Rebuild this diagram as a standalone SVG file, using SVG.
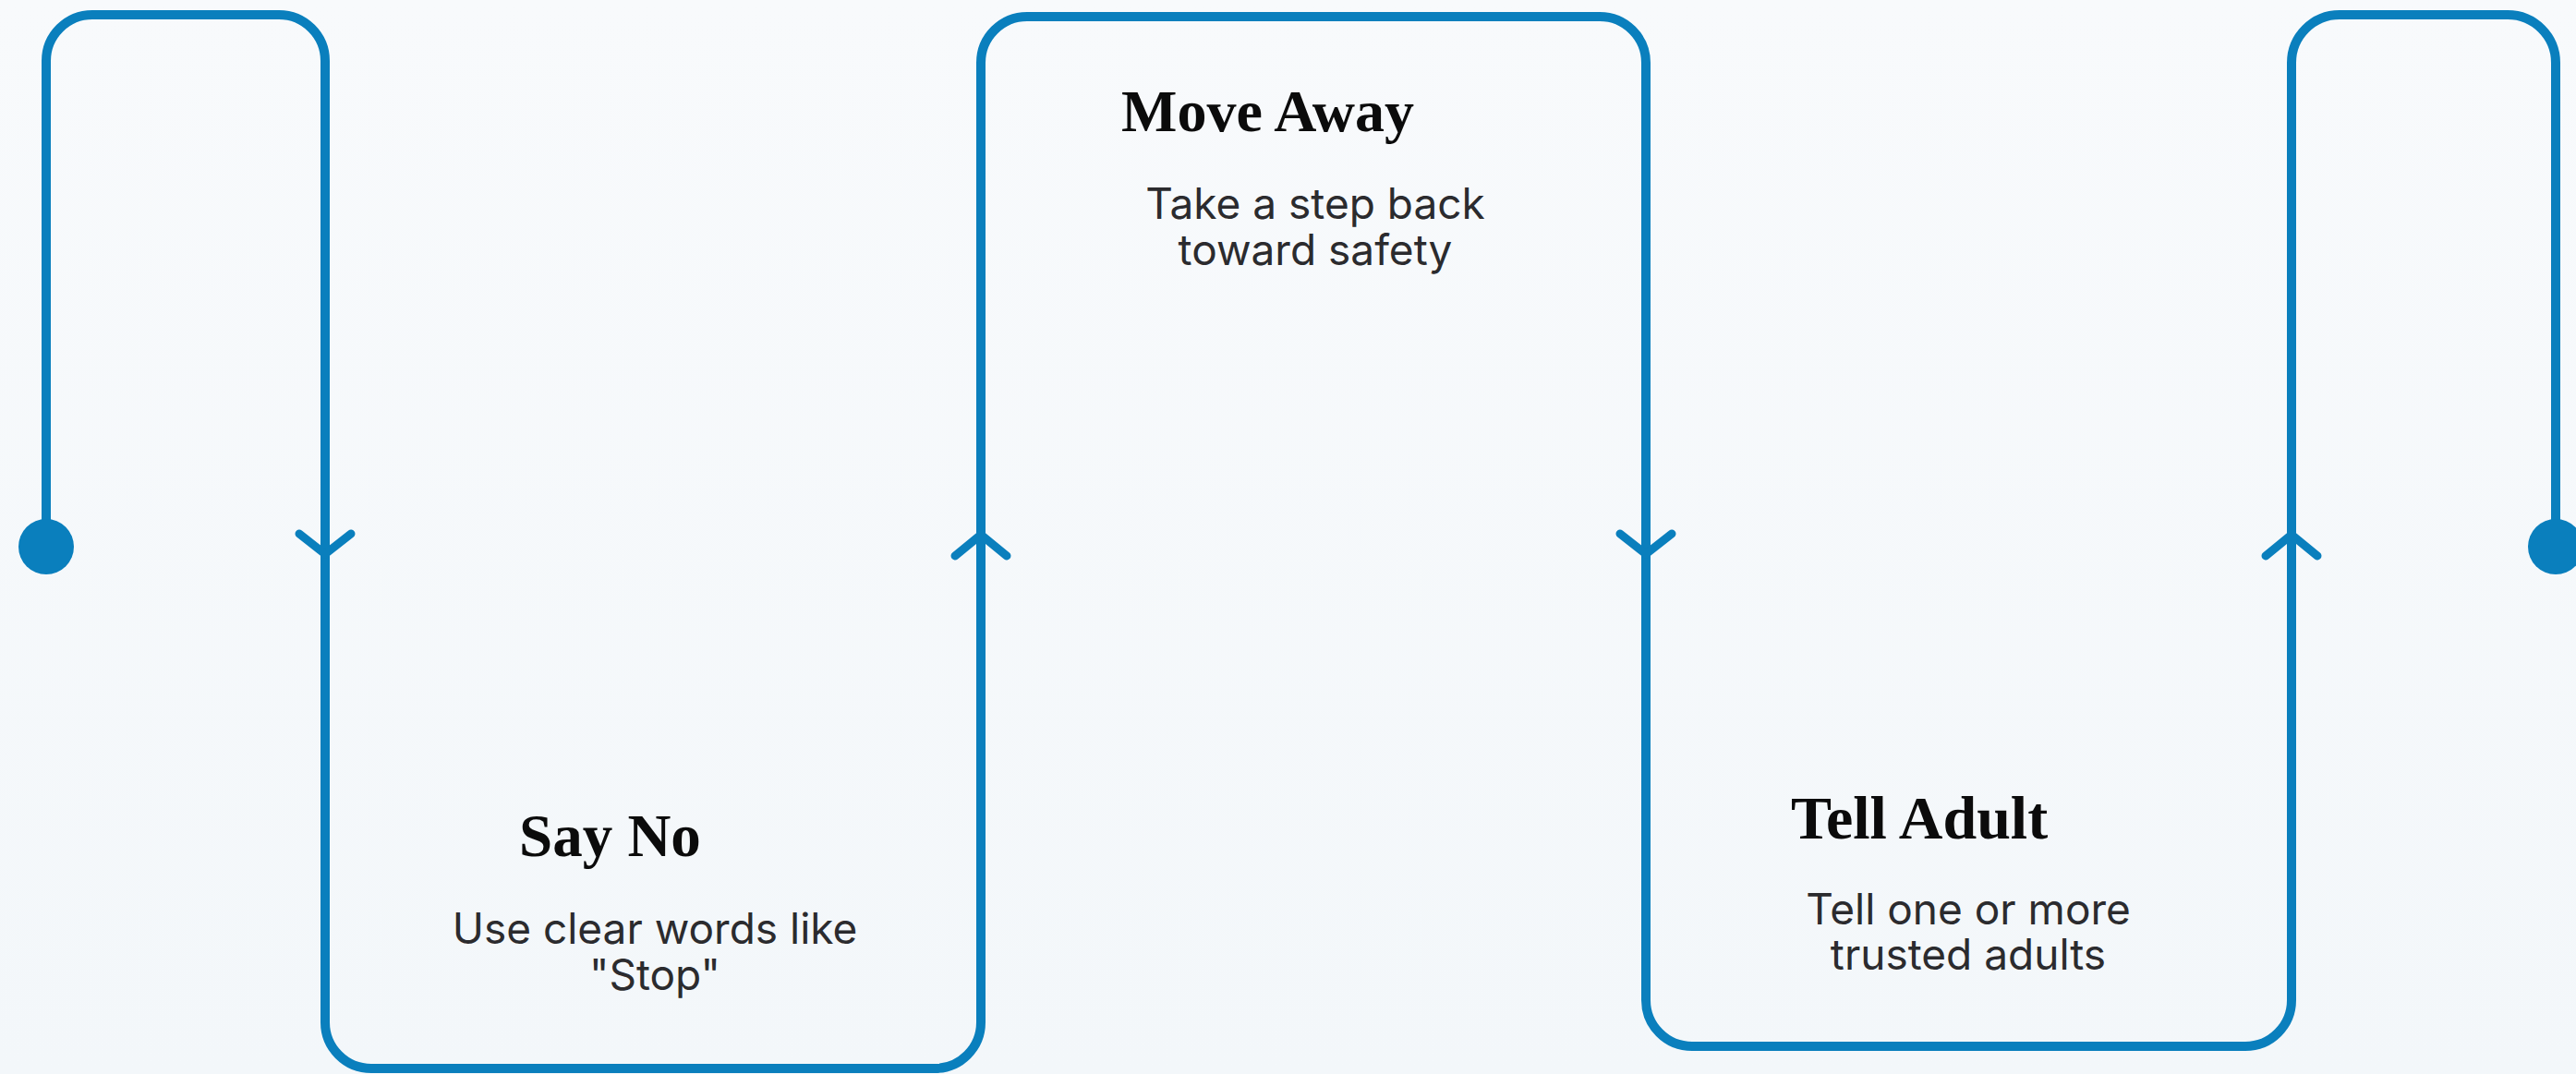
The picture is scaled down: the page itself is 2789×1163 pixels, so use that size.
<svg xmlns="http://www.w3.org/2000/svg" width="2789" height="1163" viewBox="0 0 2789 1163">
  <defs>
    <linearGradient id="bg" x1="0" y1="0" x2="0" y2="1">
      <stop offset="0" stop-color="#f8fafc"/>
      <stop offset="1" stop-color="#f3f7fa"/>
    </linearGradient>
    <style>
      .line { fill: none; stroke: #0a7fbd; stroke-width: 10; stroke-linejoin: round; stroke-linecap: round; }
      .arrow { fill: none; stroke: #0a7fbd; stroke-width: 9; stroke-linejoin: round; stroke-linecap: round; }
      .dot { fill: #0a7fbd; }
      .title { font-family: "Liberation Serif", "DejaVu Serif", serif; font-weight: bold; fill: #0b0b0b; }
      .sub { font-family: Inter, "Liberation Sans", sans-serif; font-size: 46px; fill: #2b2b2e; text-anchor: middle; }
    </style>
  </defs>
  <rect x="0" y="0" width="2789" height="1163" fill="url(#bg)"/>

  <g id="connectors">
    <path class="line" d="M 50 592 L 50 66 A 50 50 0 0 1 100 16 L 302 16 A 50 50 0 0 1 352 66 L 352 1107 A 50 50 0 0 0 402 1157 L 1012 1157 A 50 50 0 0 0 1062 1107 L 1062 68 A 50 50 0 0 1 1112 18 L 1732 18 A 50 50 0 0 1 1782 68 L 1782 1083 A 50 50 0 0 0 1832 1133 L 2431 1133 A 50 50 0 0 0 2481 1083 L 2481 68 A 52 52 0 0 1 2533 16 L 2715 16 A 52 52 0 0 1 2767 68 L 2767 592"/>
    <circle class="dot" cx="50" cy="592" r="30"/>
    <circle class="dot" cx="2767" cy="592" r="30"/>
    <path class="arrow" d="M 324 578 L 352 600 L 380 578"/>
    <path class="arrow" d="M 1034 602 L 1062 579 L 1090 602"/>
    <path class="arrow" d="M 1754 578 L 1782 600 L 1810 578"/>
    <path class="arrow" d="M 2453 602 L 2481 579 L 2509 602"/>
  </g>

  <g id="node-say-no">
    <text class="title" x="562" y="927" font-size="65">Say No</text>
    <text class="sub" x="709" y="1022">Use clear words like</text>
    <text class="sub" x="709" y="1072">"Stop"</text>
  </g>

  <g id="node-move-away">
    <text class="title" x="1214" y="142" font-size="64">Move Away</text>
    <text class="sub" x="1424" y="237">Take a step back</text>
    <text class="sub" x="1424" y="287">toward safety</text>
  </g>

  <g id="node-tell-adult">
    <text class="title" x="1939" y="908" font-size="66">Tell Adult</text>
    <text class="sub" x="2131" y="1001">Tell one or more</text>
    <text class="sub" x="2131" y="1050">trusted adults</text>
  </g>
</svg>
